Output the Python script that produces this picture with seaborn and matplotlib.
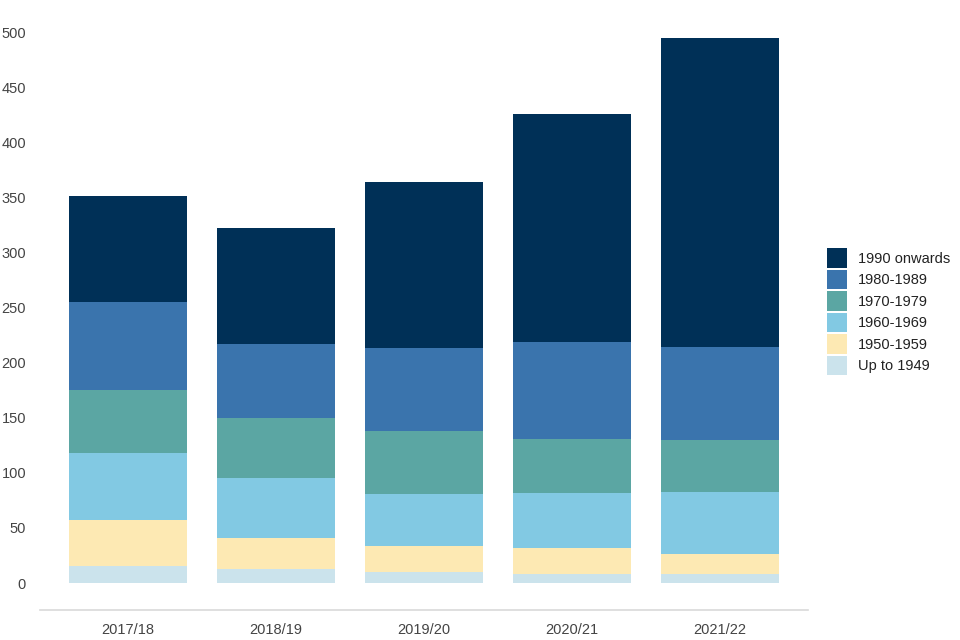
import matplotlib
matplotlib.use('Agg')
import matplotlib.pyplot as plt
from matplotlib.patches import Patch, Rectangle
from matplotlib.legend_handler import HandlerPatch
import seaborn as sns
import numpy as np
import pandas as pd

# ---------------------------------------------------------------- data
years = ['2017/18', '2018/19', '2019/20', '2020/21', '2021/22']
bands = ['Up to 1949', '1950-1959', '1960-1969', '1970-1979', '1980-1989', '1990 onwards']
up_to_1949 = [15, 13, 10, 8, 8]
y1950_1959 = [42, 28, 24, 24, 18]
y1960_1969 = [61, 54, 47, 50, 57]
y1970_1979 = [57, 55, 57, 49, 47]
y1980_1989 = [80, 67, 75, 88, 84]
y1990_on = [96, 105, 151, 207, 281]
colours = ['#cbe3ec', '#fde9b3', '#82c9e3', '#5ba6a3', '#3a74ad', '#003057']

# ---------------------------------------------------------------- plot
sns.set_style('white')
plt.rcParams['font.family'] = ['Liberation Sans', 'DejaVu Sans']

series = [up_to_1949, y1950_1959, y1960_1969, y1970_1979, y1980_1989, y1990_on]
cum = np.cumsum(np.array(series), axis=0)

fig = plt.figure(figsize=(9.6, 6.4), dpi=100)
ax = fig.add_axes([40 / 960, 1 - 610 / 640, 768 / 960, (610 - 21) / 640])

# draw cumulative totals from the top band down, so each one overpaints the last
for i in range(len(bands) - 1, -1, -1):
    df = pd.DataFrame({'year': years, 'value': cum[i]})
    sns.barplot(data=df, x='year', y='value', color=colours[i], saturation=1,
                width=0.8, ax=ax, errorbar=None, edgecolor='none', linewidth=0)

ax.set_xlim(-0.595, 4.595)
ax.set_ylim(-24.5, 510)
ax.set_yticks(np.arange(0, 501, 50))
ax.set_xlabel('')
ax.set_ylabel('')
for s in ['top', 'right', 'left']:
    ax.spines[s].set_visible(False)
ax.spines['bottom'].set_color('#d9d9d9')
ax.spines['bottom'].set_linewidth(1.2)
ax.tick_params(axis='both', length=0, labelsize=10.5, colors='#444444')
ax.tick_params(axis='x', pad=9)
ax.tick_params(axis='y', pad=10)


# legend keys: square blocks taller than the text row, stacked almost touching
def big_key(legend, orig_handle, xdescent, ydescent, width, height, fontsize):
    h = 14.0
    cy = -ydescent + height / 2
    return Rectangle((-xdescent, cy - h / 2), width, h)


handles = [Patch(facecolor=colours[i], edgecolor='none') for i in range(len(bands) - 1, -1, -1)]
labels = bands[::-1]
fig.legend(handles, labels, loc='upper left', bbox_to_anchor=(820 / 960, 1 - 244 / 640),
           bbox_transform=fig.transFigure, frameon=False, borderpad=0,
           handlelength=1.37, handleheight=1.0, labelspacing=0.48, handletextpad=0.75,
           fontsize=10.5, labelcolor='#222222',
           handler_map={Patch: HandlerPatch(patch_func=big_key)})

plt.savefig('out.png', dpi=100)
